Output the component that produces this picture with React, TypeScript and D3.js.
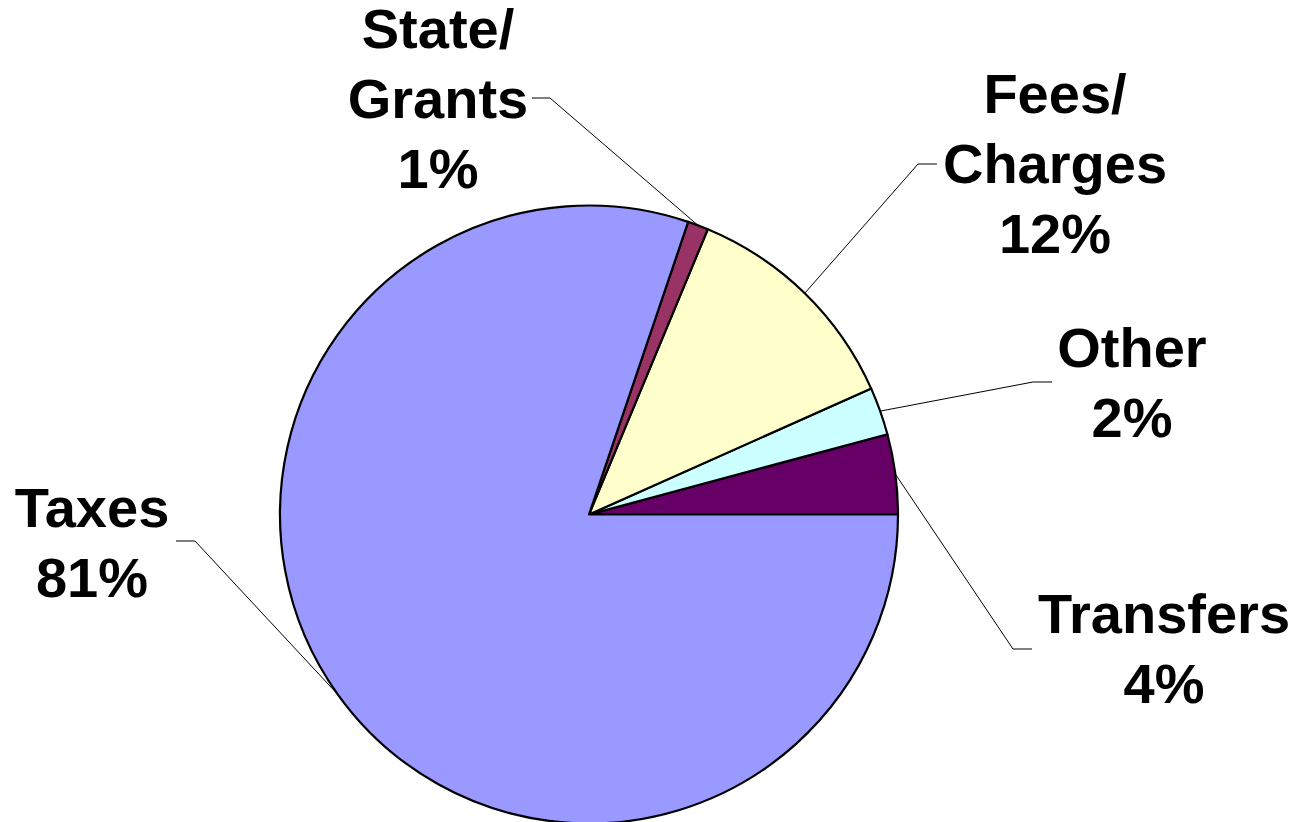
import React from "react";
import * as d3 from "d3";

// Data (counter-clockwise from 3 o'clock)
const categories = ["Transfers", "Other", "Fees/Charges", "State/Grants", "Taxes"];
const values = [4.18, 2.5, 12.04, 1.08, 80.2];
const labelLines = [
  ["Transfers", "4%"],
  ["Other", "2%"],
  ["Fees/", "Charges", "12%"],
  ["State/", "Grants", "1%"],
  ["Taxes", "81%"],
];

// Styles / layout
const colors = ["#660066", "#CCFFFF", "#FFFFCC", "#993366", "#9999FF"];
const W = 1295;
const H = 822;
const CX = 589;
const CY = 514.5;
const R = 309;
const FONT = "'Liberation Sans', Arial, Helvetica, sans-serif";
const FONT_SIZE = 56;
const LINE_H = 70;
// label center x, first baseline y, leader: text-end x, elbow x, y
const labelLayout = [
  { x: 1164, y: 633, tx: 1032, ex: 1013, ly: 649 },
  { x: 1132, y: 367, tx: 1052, ex: 1033, ly: 382 },
  { x: 1055, y: 113, tx: 937, ex: 918, ly: 164 },
  { x: 438, y: 48, tx: 532, ex: 550, ly: 98 },
  { x: 92, y: 527, tx: 176, ex: 195, ly: 541 },
];

export default function App() {
  const pie = d3
    .pie<number>()
    .sort(null)
    .value((d) => d)
    .startAngle(Math.PI / 2)
    .endAngle(Math.PI / 2 - 2 * Math.PI);
  const arcs = pie(values);
  const arc = d3.arc<d3.PieArcDatum<number>>().innerRadius(0).outerRadius(R);

  return (
    <svg
      width={W}
      height={H}
      style={{ position: "absolute", left: 0, top: 0, background: "#fff" }}
    >
      <g transform={`translate(${CX},${CY})`}>
        {arcs.map((a, i) => (
          <path
            key={categories[i]}
            d={arc(a) || ""}
            fill={colors[i]}
            stroke="#000"
            strokeWidth={2.2}
            strokeLinejoin="round"
          />
        ))}
      </g>
      {arcs.map((a, i) => {
        const m = (a.startAngle + a.endAngle) / 2;
        const px = CX + R * Math.sin(m);
        const py = CY - R * Math.cos(m);
        const L = labelLayout[i];
        return (
          <polyline
            key={"l" + i}
            points={`${L.tx},${L.ly} ${L.ex},${L.ly} ${px},${py}`}
            fill="none"
            stroke="#000"
            strokeWidth={1}
          />
        );
      })}
      {labelLines.map((lines, i) => {
        const L = labelLayout[i];
        return (
          <text
            key={"t" + i}
            textAnchor="middle"
            fontFamily={FONT}
            fontWeight="bold"
            fontSize={FONT_SIZE}
            fill="#000"
          >
            {lines.map((s, j) => (
              <tspan key={j} x={L.x} y={L.y + j * LINE_H}>
                {s}
              </tspan>
            ))}
          </text>
        );
      })}
    </svg>
  );
}
